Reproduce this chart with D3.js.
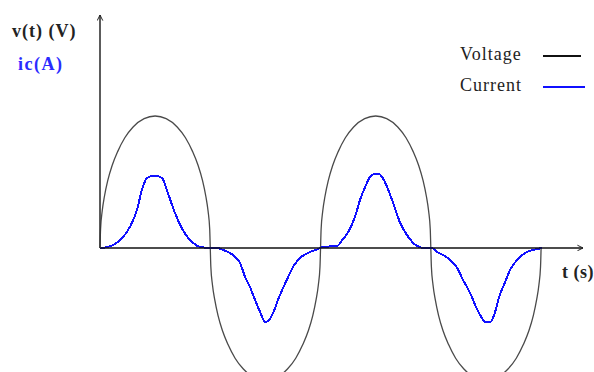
<!DOCTYPE html>
<html>
<head>
<meta charset="utf-8">
<script src="https://cdn.jsdelivr.net/npm/d3@7/dist/d3.min.js"></script>
<style>
  html, body { margin: 0; padding: 0; background: #fff; }
  svg { display: block; }
  text { font-family: "Liberation Serif", "Times New Roman", serif; }
</style>
</head>
<body>
<svg id="chart" width="594" height="372"></svg>
<script>
// Time samples (s) and voltage (V): two full cycles, half-period 5 s
const tVolt = [
  0, 0.025, 0.1, 0.2, 0.35, 0.55, 0.8, 1.125, 1.5, 2.0, 2.5, 3.0, 3.5, 3.875, 4.2, 4.45, 4.65, 4.8, 4.9, 4.975,
  5, 5.025, 5.1, 5.2, 5.35, 5.55, 5.8, 6.125, 6.5, 7.0, 7.5, 8.0, 8.5, 8.875, 9.2, 9.45, 9.65, 9.8, 9.9, 9.975,
  10, 10.025, 10.1, 10.2, 10.35, 10.55, 10.8, 11.125, 11.5, 12.0, 12.5, 13.0, 13.5, 13.875, 14.2, 14.45, 14.65, 14.8, 14.9, 14.975,
  15, 15.025, 15.1, 15.2, 15.35, 15.55, 15.8, 16.125, 16.5, 17.0, 17.5, 18.0, 18.5, 18.875, 19.2, 19.45, 19.65, 19.8, 19.9, 19.975,
  20
];
const vVolt = [
  0, 1.4, 2.8, 3.9, 5.1, 6.25, 7.3, 8.35, 9.17, 9.8, 10, 9.8, 9.17, 8.35, 7.3, 6.25, 5.1, 3.9, 2.8, 1.4,
  0, -1.4, -2.8, -3.9, -5.1, -6.25, -7.3, -8.35, -9.17, -9.8, -10, -9.8, -9.17, -8.35, -7.3, -6.25, -5.1, -3.9, -2.8, -1.4,
  0, 1.4, 2.8, 3.9, 5.1, 6.25, 7.3, 8.35, 9.17, 9.8, 10, 9.8, 9.17, 8.35, 7.3, 6.25, 5.1, 3.9, 2.8, 1.4,
  0, -1.4, -2.8, -3.9, -5.1, -6.25, -7.3, -8.35, -9.17, -9.8, -10, -9.8, -9.17, -8.35, -7.3, -6.25, -5.1, -3.9, -2.8, -1.4,
  0
];

// Time samples (s) and capacitor current ic (A)
const tCurr = [
  0, 0.36, 0.91, 1.36, 1.68, 1.90, 2.13, 2.36, 2.59, 2.81, 3.08, 3.40, 3.76, 4.22, 4.54, 4.99, 5.31,
  5.58, 6.03, 6.35, 6.58, 6.80, 7.03, 7.26, 7.48, 7.62, 7.85, 8.07, 8.30, 8.53, 8.75, 9.07, 9.52, 9.89,
  10.11, 10.75, 10.98, 11.25, 11.56, 11.79, 12.02, 12.24, 12.43, 12.65, 12.79, 13.02, 13.29, 13.61, 13.92, 14.38, 14.74, 15.06,
  15.28, 15.56, 15.87, 16.19, 16.46, 16.78, 17.05, 17.32, 17.46, 17.69, 17.87, 18.10, 18.37, 18.59, 18.91, 19.27, 19.64, 20.05
];
const iCurr = [
  0, 0.08, 0.6, 1.6, 2.9, 4.4, 5.3, 5.45, 5.45, 5.3, 4.15, 2.65, 1.35, 0.38, 0.08, 0, 0,
  -0.15, -0.53, -1.14, -2.2, -2.95, -3.94, -4.85, -5.6, -5.53, -4.92, -3.94, -3.03, -2.2, -1.44, -0.76, -0.3, -0.08,
  0.08, 0.15, 0.6, 1.2, 2.35, 3.64, 4.62, 5.38, 5.6, 5.6, 5.38, 4.62, 3.41, 1.9, 0.98, 0.15, 0, 0,
  -0.3, -0.53, -0.9, -1.5, -2.42, -3.4, -4.47, -5.3, -5.6, -5.6, -5.08, -3.7, -2.58, -1.67, -0.91, -0.38, -0.15, 0
];

// Axis extents (arrow tips) and text labels
const tMax = 21.9;
const vTop = 17.65;
const vBottom = -10;
const yLabels = ["v(t) (V)", "ic(A)"];
const xLabel = "t (s)";
const legendNames = ["Voltage", "Current"];
const legendColors = ["#111", "#1010ff"];

const svg = d3.select("#chart");

const x = d3.scaleLinear().domain([0, tMax]).range([100, 583]);
const y = d3.scaleLinear().domain([vBottom, vTop]).range([380, 15]);

// Arrowhead marker for both axes
const defs = svg.append("defs");
defs.append("marker")
  .attr("id", "arrow")
  .attr("viewBox", "0 0 10 10")
  .attr("refX", 9).attr("refY", 5)
  .attr("markerWidth", 7).attr("markerHeight", 7)
  .attr("markerUnits", "userSpaceOnUse")
  .attr("orient", "auto")
  .append("path")
  .attr("d", "M1,1 L9,5 L1,9")
  .attr("fill", "none")
  .attr("stroke", "#222")
  .attr("stroke-width", 1.4);

// Voltage curve
const voltData = tVolt.map((t, i) => [t, vVolt[i]]);
svg.append("path")
  .datum(voltData)
  .attr("fill", "none")
  .attr("stroke", "#4a4a4a")
  .attr("stroke-width", 1.3)
  .attr("d", d3.line().x(d => x(d[0])).y(d => y(d[1])).curve(d3.curveMonotoneX));

// Current curve
const currData = tCurr.map((t, i) => [t, iCurr[i]]);
svg.append("path")
  .datum(currData)
  .attr("fill", "none")
  .attr("stroke", legendColors[1])
  .attr("stroke-width", 2)
  .attr("shape-rendering", "crispEdges")
  .attr("d", d3.line().x(d => x(d[0])).y(d => y(d[1])).curve(d3.curveMonotoneX));

// Time axis through zero
const xAxis = svg.append("g")
  .attr("transform", `translate(0,${y(0)})`)
  .call(d3.axisBottom(x).ticks(0).tickSizeOuter(0));
xAxis.select(".domain")
  .attr("stroke", "#111")
  .attr("stroke-width", 1.6)
  .attr("d", `M${x(0)},0H${x(tMax)}`)
  .attr("marker-end", "url(#arrow)");

// Vertical axis from zero up
const yUp = d3.scaleLinear().domain([0, vTop]).range([y(0), y(vTop)]);
const yAxis = svg.append("g")
  .attr("transform", `translate(${x(0)},0)`)
  .call(d3.axisLeft(yUp).ticks(0).tickSizeOuter(0));
yAxis.select(".domain")
  .attr("stroke", "#333")
  .attr("stroke-width", 1.6)
  .attr("d", `M0,${yUp(0)}V${yUp(vTop)}`)
  .attr("marker-end", "url(#arrow)");

// Axis titles
svg.append("text")
  .attr("x", 12).attr("y", 37)
  .attr("font-size", 18).attr("font-weight", "bold")
  .attr("letter-spacing", 1)
  .attr("fill", "#222")
  .text(yLabels[0]);
svg.append("text")
  .attr("x", 18).attr("y", 70)
  .attr("font-size", 18).attr("font-weight", "bold")
  .attr("letter-spacing", 1.5)
  .attr("fill", "#2b2bff")
  .text(yLabels[1]);
svg.append("text")
  .attr("x", 562).attr("y", 278)
  .attr("font-size", 18).attr("font-weight", "bold")
  .attr("letter-spacing", 0.5)
  .attr("fill", "#222")
  .text(xLabel);

// Legend
const legend = svg.append("g");
legendNames.forEach((name, i) => {
  const ly = 60 + i * 31;
  legend.append("text")
    .attr("x", 460).attr("y", ly)
    .attr("font-size", 18)
    .attr("letter-spacing", 1)
    .attr("fill", "#222")
    .text(name);
  legend.append("line")
    .attr("x1", 543).attr("x2", 581 + i * 4)
    .attr("y1", ly - 4).attr("y2", ly - 4)
    .attr("stroke", legendColors[i])
    .attr("stroke-width", 2);
});
</script>
</body>
</html>
